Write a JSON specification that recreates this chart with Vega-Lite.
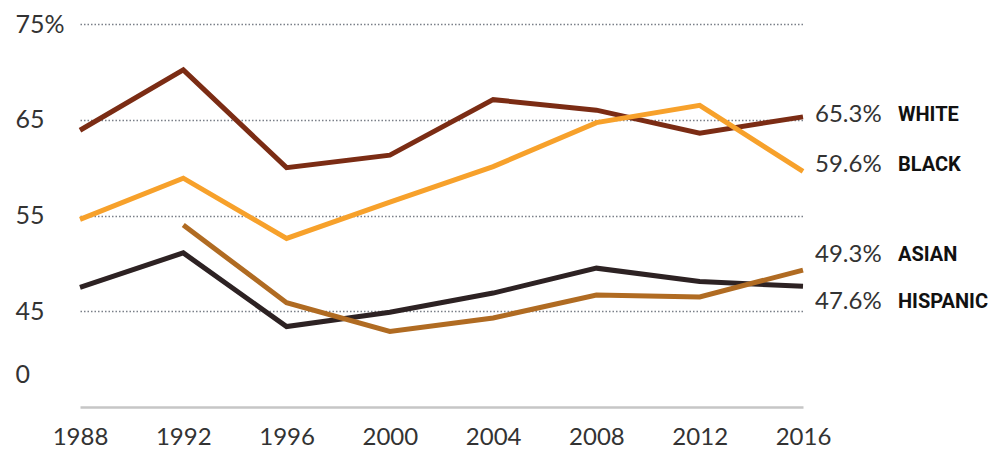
{
  "$schema": "https://vega.github.io/schema/vega-lite/v6.json",
  "width": 723,
  "height": 383,
  "autosize": {"type": "none"},
  "padding": {"left": 80, "top": 24, "right": 187, "bottom": 42},
  "background": "white",
  "config": {"view": {"stroke": null}, "font": "Lato"},
  "data": {"values": [
    {"race": "White", "year": 1988, "value": 63.9},
    {"race": "White", "year": 1992, "value": 70.2},
    {"race": "White", "year": 1996, "value": 60.0},
    {"race": "White", "year": 2000, "value": 61.3},
    {"race": "White", "year": 2004, "value": 67.1},
    {"race": "White", "year": 2008, "value": 66.0},
    {"race": "White", "year": 2012, "value": 63.6},
    {"race": "White", "year": 2016, "value": 65.3},
    {"race": "Black", "year": 1988, "value": 54.6},
    {"race": "Black", "year": 1992, "value": 58.9},
    {"race": "Black", "year": 1996, "value": 52.6},
    {"race": "Black", "year": 2000, "value": 56.4},
    {"race": "Black", "year": 2004, "value": 60.1},
    {"race": "Black", "year": 2008, "value": 64.7},
    {"race": "Black", "year": 2012, "value": 66.5},
    {"race": "Black", "year": 2016, "value": 59.6},
    {"race": "Hispanic", "year": 1988, "value": 47.5},
    {"race": "Hispanic", "year": 1992, "value": 51.1},
    {"race": "Hispanic", "year": 1996, "value": 43.4},
    {"race": "Hispanic", "year": 2000, "value": 44.9},
    {"race": "Hispanic", "year": 2004, "value": 46.9},
    {"race": "Hispanic", "year": 2008, "value": 49.5},
    {"race": "Hispanic", "year": 2012, "value": 48.1},
    {"race": "Hispanic", "year": 2016, "value": 47.6},
    {"race": "Asian", "year": 1992, "value": 54.0},
    {"race": "Asian", "year": 1996, "value": 45.9},
    {"race": "Asian", "year": 2000, "value": 42.9},
    {"race": "Asian", "year": 2004, "value": 44.3},
    {"race": "Asian", "year": 2008, "value": 46.7},
    {"race": "Asian", "year": 2012, "value": 46.5},
    {"race": "Asian", "year": 2016, "value": 49.3}
  ]},
  "encoding": {
    "x": {"field": "year", "type": "quantitative", "scale": {"domain": [1988, 2016], "nice": false, "zero": false},
      "axis": {"values": [1988, 1992, 1996, 2000, 2004, 2008, 2012, 2016], "format": "d", "title": null, "grid": false, "tickSize": 0, "labelPadding": 18, "labelFontSize": 24, "labelColor": "#333", "labelFont": "Lato", "domainColor": "#c6c6c6", "domainWidth": 2.5, "labelFlush": false}},
    "y": {"field": "value", "type": "quantitative", "scale": {"domain": [35, 75], "nice": false, "zero": false},
      "axis": {"values": [38.4, 45, 55, 65, 75], "labelExpr": "datum.value == 75 ? '75%' : datum.value < 40 ? '0' : datum.label", "title": null, "domain": false, "ticks": false, "tickSize": 0, "labelAlign": "left", "labelBaseline": "middle", "labelPadding": 65, "labelFontSize": 25, "labelColor": "#333", "labelFont": "Lato", "grid": true, "gridColor": "#7a7f88", "gridWidth": 1.5, "gridDash": [1.5, 2], "gridOpacity": {"condition": {"test": "datum.value < 40", "value": 0}, "value": 1}}}
  },
  "layer": [
    {"mark": {"type": "line", "strokeWidth": 5, "strokeJoin": "miter"},
     "encoding": {"color": {"field": "race", "type": "nominal", "scale": {"domain": ["White", "Black", "Hispanic", "Asian"], "range": ["#7b2c14", "#f7a12b", "#2d2223", "#b06b22"]}, "legend": null}}},
    {"transform": [{"filter": "datum.year == 2016 && datum.race == 'White'"}, {"calculate": "format(datum.value, '.1f') + '%'", "as": "pct"}],
     "mark": {"type": "text", "align": "left", "baseline": "middle", "dx": 12, "dy": -2, "fontSize": 24, "font": "Lato", "color": "#333"},
     "encoding": {"text": {"field": "pct"}}},
    {"transform": [{"filter": "datum.year == 2016 && datum.race == 'White'"}, {"calculate": "upper(datum.race)", "as": "name"}],
     "mark": {"type": "text", "align": "left", "baseline": "middle", "dx": 95, "dy": -2, "fontSize": 20, "fontWeight": "bold", "font": "Roboto", "color": "#111"},
     "encoding": {"text": {"field": "name"}}},
    {"transform": [{"filter": "datum.year == 2016 && datum.race == 'Black'"}, {"calculate": "format(datum.value, '.1f') + '%'", "as": "pct"}],
     "mark": {"type": "text", "align": "left", "baseline": "middle", "dx": 12, "dy": -6, "fontSize": 24, "font": "Lato", "color": "#333"},
     "encoding": {"text": {"field": "pct"}}},
    {"transform": [{"filter": "datum.year == 2016 && datum.race == 'Black'"}, {"calculate": "upper(datum.race)", "as": "name"}],
     "mark": {"type": "text", "align": "left", "baseline": "middle", "dx": 95, "dy": -6, "fontSize": 20, "fontWeight": "bold", "font": "Roboto", "color": "#111"},
     "encoding": {"text": {"field": "name"}}},
    {"transform": [{"filter": "datum.year == 2016 && datum.race == 'Asian'"}, {"calculate": "format(datum.value, '.1f') + '%'", "as": "pct"}],
     "mark": {"type": "text", "align": "left", "baseline": "middle", "dx": 12, "dy": -15, "fontSize": 24, "font": "Lato", "color": "#333"},
     "encoding": {"text": {"field": "pct"}}},
    {"transform": [{"filter": "datum.year == 2016 && datum.race == 'Asian'"}, {"calculate": "upper(datum.race)", "as": "name"}],
     "mark": {"type": "text", "align": "left", "baseline": "middle", "dx": 95, "dy": -15, "fontSize": 20, "fontWeight": "bold", "font": "Roboto", "color": "#111"},
     "encoding": {"text": {"field": "name"}}},
    {"transform": [{"filter": "datum.year == 2016 && datum.race == 'Hispanic'"}, {"calculate": "format(datum.value, '.1f') + '%'", "as": "pct"}],
     "mark": {"type": "text", "align": "left", "baseline": "middle", "dx": 12, "dy": 16, "fontSize": 24, "font": "Lato", "color": "#333"},
     "encoding": {"text": {"field": "pct"}}},
    {"transform": [{"filter": "datum.year == 2016 && datum.race == 'Hispanic'"}, {"calculate": "upper(datum.race)", "as": "name"}],
     "mark": {"type": "text", "align": "left", "baseline": "middle", "dx": 95, "dy": 16, "fontSize": 20, "fontWeight": "bold", "font": "Roboto", "color": "#111"},
     "encoding": {"text": {"field": "name"}}}
  ]
}
